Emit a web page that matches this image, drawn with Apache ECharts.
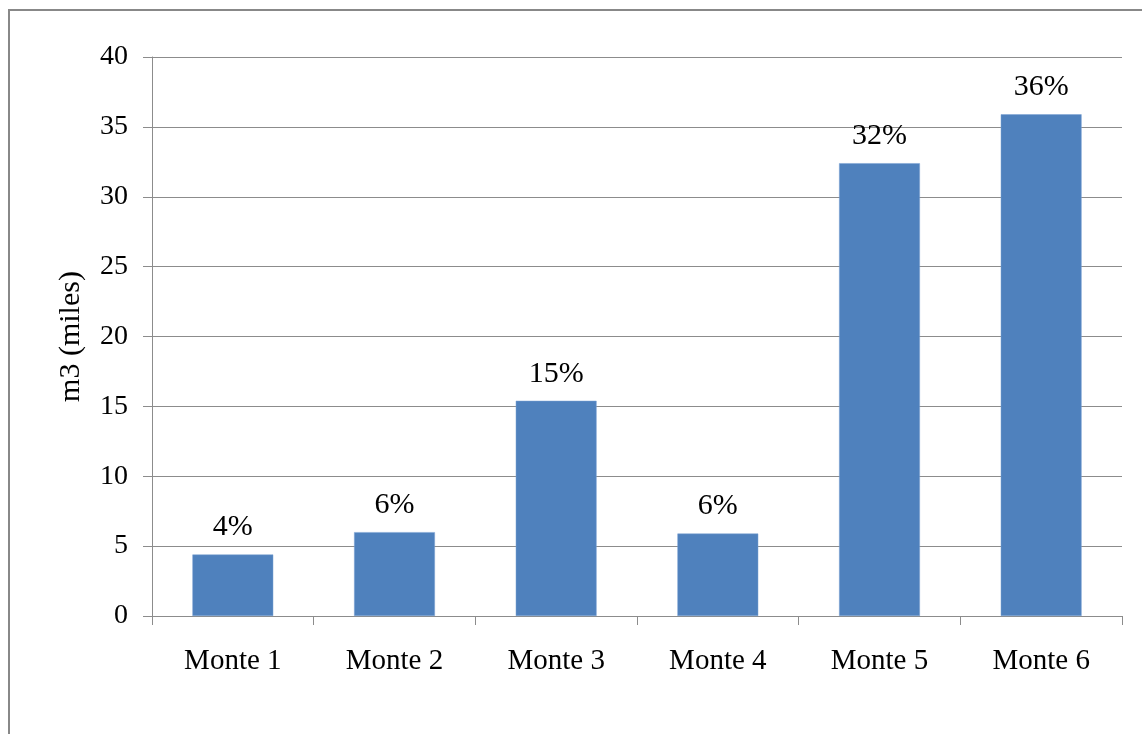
<!DOCTYPE html>
<html>
<head>
<meta charset="utf-8">
<style>
  html, body { margin: 0; padding: 0; background: #fff; }
  #chart { width: 1142px; height: 734px; }
</style>
<script src="https://cdn.jsdelivr.net/npm/echarts@6/dist/echarts.min.js"></script>
</head>
<body>
<div id="chart"></div>
<script>
// Volume per "monte" (thousand m3) and tick setup
const categories = ['Monte 1', 'Monte 2', 'Monte 3', 'Monte 4', 'Monte 5', 'Monte 6'];
const volumes = [4.4, 6.0, 15.4, 5.9, 32.4, 35.9];
const yTicks = { min: 0, max: 40, interval: 5 };

const total = volumes.reduce((a, b) => a + b, 0);
const FONT = '"Liberation Serif", "Times New Roman", serif';
const GRAY = '#8c8c8c';

const chart = echarts.init(document.getElementById('chart'), null, { renderer: 'canvas' });
chart.setOption({
  animation: false,
  backgroundColor: '#ffffff',
  graphic: [{
    type: 'rect',
    shape: { x: 9, y: 10, width: 1300, height: 900 },
    style: { fill: 'none', stroke: '#888888', lineWidth: 2 },
    silent: true
  }],
  grid: { left: 152, right: 20, top: 57, bottom: 118, containLabel: false },
  xAxis: {
    type: 'category',
    data: categories,
    axisLine: { show: true, lineStyle: { color: GRAY, width: 1 } },
    axisTick: { show: true, length: 9, alignWithLabel: false, lineStyle: { color: GRAY } },
    axisLabel: { color: '#000', fontFamily: FONT, fontSize: 29, margin: 31 },
    splitLine: { show: false }
  },
  yAxis: {
    type: 'value',
    min: yTicks.min,
    max: yTicks.max,
    interval: yTicks.interval,
    name: 'm3 (miles)',
    nameLocation: 'middle',
    nameGap: 66,
    nameRotate: 90,
    nameTextStyle: { color: '#000', fontFamily: FONT, fontSize: 30 },
    axisLine: { show: true, lineStyle: { color: GRAY, width: 1 } },
    axisTick: { show: true, length: 9, lineStyle: { color: GRAY } },
    axisLabel: { color: '#000', fontFamily: FONT, fontSize: 28, margin: 24 },
    splitLine: { show: true, lineStyle: { color: GRAY, width: 1 } }
  },
  series: [{
    type: 'bar',
    data: volumes,
    barWidth: '50%',
    itemStyle: { color: '#4F81BD', borderColor: '#7aa0d2', borderWidth: 0.5 },
    label: {
      show: true,
      position: 'top',
      distance: 12,
      color: '#000',
      fontFamily: FONT,
      fontSize: 30,
      formatter: p => Math.round(p.value / total * 100) + '%'
    }
  }]
});
</script>
</body>
</html>
